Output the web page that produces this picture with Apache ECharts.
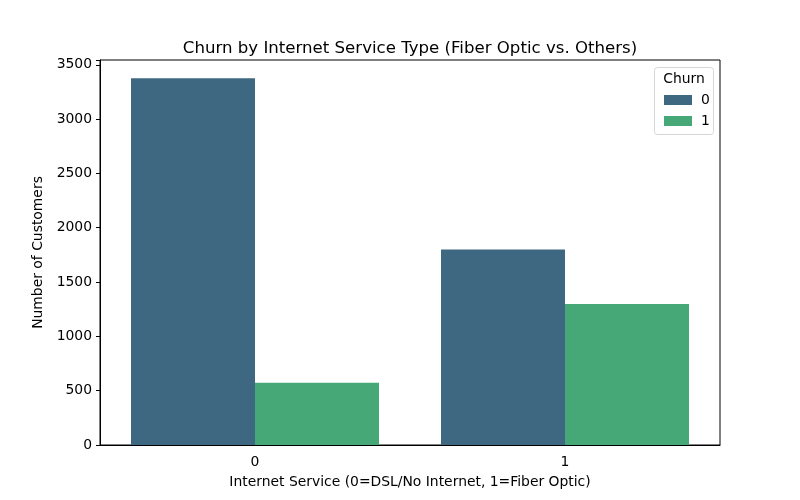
<!DOCTYPE html>
<html><head><meta charset="utf-8">
<script src="https://cdn.jsdelivr.net/npm/echarts@6/dist/echarts.min.js"></script>
<style>html,body{margin:0;padding:0;background:#fff}#c{width:800px;height:500px}</style>
</head><body><div id="c"></div>
<script>
const categories = ['0', '1'];
const churn0 = [3375, 1799];
const churn1 = [572, 1297];
const yTicks = [0, 500, 1000, 1500, 2000, 2500, 3000, 3500];

const F = 'DejaVu Sans';
const chart = echarts.init(document.getElementById('c'), null, {renderer: 'canvas'});
chart.setOption({
  animation: false,
  backgroundColor: '#fff',
  title: {text: 'Churn by Internet Service Type (Fiber Optic vs. Others)', left: 405, top: 35, textAlign: 'center',
    textStyle: {fontFamily: F, fontSize: 16.6, fontWeight: 'normal', color: '#000'}},
  grid: {left: 100, right: 80, top: 60, bottom: 55, show: true, borderColor: '#000', borderWidth: 1, backgroundColor: 'transparent'},
  xAxis: {type: 'category', data: categories,
    name: 'Internet Service (0=DSL/No Internet, 1=Fiber Optic)', nameLocation: 'middle', nameGap: 30,
    nameTextStyle: {fontFamily: F, fontSize: 13.9, color: '#000'},
    axisLine: {lineStyle: {color: '#000'}}, axisTick: {alignWithLabel: true, length: 4, lineStyle: {color: '#000'}},
    axisLabel: {fontFamily: F, fontSize: 13.9, color: '#000', margin: 10}},
  yAxis: {type: 'value', min: 0, max: 3543.75, interval: 500,
    name: 'Number of Customers', nameLocation: 'middle', nameGap: 49,
    nameTextStyle: {fontFamily: F, fontSize: 13.9, color: '#000'},
    splitLine: {show: false},
    axisLine: {show: true, lineStyle: {color: '#000'}}, axisTick: {show: true, length: 4, lineStyle: {color: '#000'}},
    axisLabel: {fontFamily: F, fontSize: 13.9, color: '#000', margin: 8,
      formatter: v => yTicks.includes(v) ? String(v) : ''}},
  legend: {orient: 'vertical', left: 659, top: 88, itemGap: 7, itemWidth: 28, itemHeight: 10, icon: 'rect',
    textStyle: {fontFamily: F, fontSize: 13.9, color: '#000', padding: [0, 0, 0, 4]},
    data: ['0', '1']},
  graphic: [
    {type: 'rect', shape: {x: 654.5, y: 67.5, width: 59, height: 67, r: 3}, style: {fill: 'rgba(255,255,255,0.8)', stroke: '#d6d6d6', lineWidth: 1}, z: 1},
    {type: 'text', x: 684, y: 79, style: {text: 'Churn', fontFamily: F, fontSize: 13.9, fill: '#000', textAlign: 'center', textVerticalAlign: 'middle'}, z: 5}
  ],
  series: [
    {name: '0', type: 'bar', data: churn0, barGap: '0%', barCategoryGap: '20%', itemStyle: {color: '#3e6782'}},
    {name: '1', type: 'bar', data: churn1, barGap: '0%', barCategoryGap: '20%', itemStyle: {color: '#46a876'}}
  ]
});
</script></body></html>
